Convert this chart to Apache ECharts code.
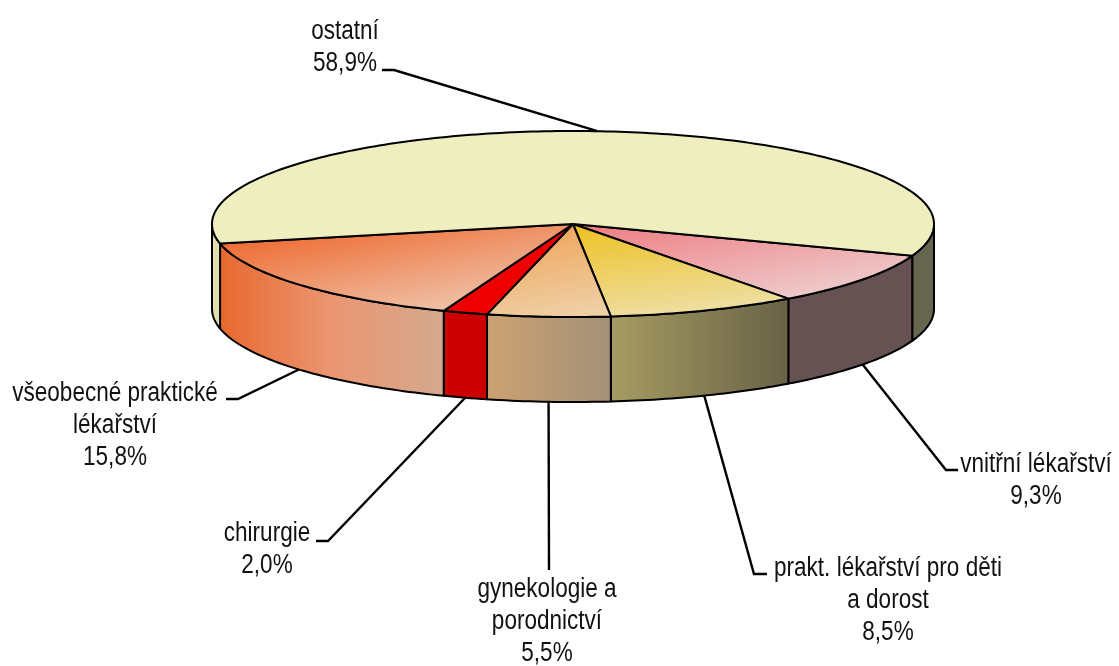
<!DOCTYPE html>
<html lang="cs">
  <head>
    <meta charset="UTF-8" />
    <title>Koláčový graf</title>
    <script src="https://cdn.jsdelivr.net/npm/echarts@6/dist/echarts.min.js"></script>
    <style>
      html, body { margin: 0; background: #fff; }
      #chart { width: 1119px; height: 666px; }
    </style>
  </head>
  <body>
    <div id="chart"></div>
    <script>
      // data, clockwise from the right hand edge of "ostatní"
      const categories = [
        "vnitřní lékařství",
        "prakt. lékařství pro děti\na dorost",
        "gynekologie a\nporodnictví",
        "chirurgie",
        "všeobecné praktické\nlékařství",
        "ostatní",
      ];
      const shares = [9.3, 8.5, 5.5, 2.0, 15.8, 58.9];

      // pie shape
      const cx = 573, cy = 224, rx = 361, ry = 93, depth = 85;
      const startAngle = 19.9;

      // colours
      const topColors = [
        ["#ee7a80", "#eecaca"],
        ["#eec020", "#eedd9c"],
        ["#efa75e", "#efd4ae"],
        ["#ee0000", "#ee0000"],
        ["#ee6a30", "#efc0a6"],
        ["#eeeebe", "#eeeebe"],
      ];
      // gradient vector of each top face, relative to its bounding box
      const topVectors = [
        [0, 0, 0.065, 1.5],
        [0, 0, 0.05, 1.03],
        [0.7, 0, 0.85, 1.05],
        [0, 0, 0, 1],
        [0, 0.2, 0.06, 1.42],
        [0, 0, 0, 1],
      ];
      const sideColors = [
        ["#665252", "#665252"],
        ["#a69c62", "#686246"],
        ["#cda272", "#a39078"],
        ["#cc0000", "#cc0000"],
        ["#e8682e", "#eb9672", "#d4a98e"],
        ["#666650", "#666650"],
      ];
      const leftSideColor = "#e0dfb0";

      // label layout: [centre x, first line y], leader: [end x, elbow x, y]
      const labelPos = [[1036, 464.5], [888, 568.5], [547, 589.5], [267, 533.5], [115, 393.5], [345, 31.5]];
      const leaders = [[958, 946, 470], [767, 754, 574], [549, 549, 570], [316, 328, 541], [226, 238, 399], [382, 394, 70]];
      const lineHeight = 32;

      const rad = (a) => (a * Math.PI) / 180;
      const rim = (a, dy) => [cx + rx * Math.cos(rad(a)), cy + ry * Math.sin(rad(a)) + (dy || 0)];
      const arc = (a0, a1, dy) => {
        const pts = [];
        const n = Math.max(2, Math.ceil(Math.abs(a1 - a0)));
        for (let i = 0; i <= n; i++) pts.push(rim(a0 + ((a1 - a0) * i) / n, dy));
        return pts;
      };
      const gradient = (vec, colors) => ({
        type: "linear", x: vec[0], y: vec[1], x2: vec[2], y2: vec[3],
        colorStops: colors.map((c, i) => ({ offset: i / (colors.length - 1), color: c })),
      });

      // start and end angle of each slice
      const total = shares.reduce((a, b) => a + b, 0);
      const ranges = [];
      let acc = startAngle;
      shares.forEach((v) => {
        const next = acc + (v / total) * 360;
        ranges.push([acc, next]);
        acc = next;
      });

      const seriesData = shares.map((v, i) => [i, v]);

      const renderSide = (params, api) => {
        const i = api.value(0);
        const [a0, a1] = ranges[i];
        const children = [];
        // only the front half of the disc shows a wall
        [[0, 180], [360, 540]].forEach(([lo, hi]) => {
          const s = Math.max(a0, lo), e = Math.min(a1, hi);
          if (e <= s) return;
          const colors = lo === 0 && i === 5 ? [leftSideColor, leftSideColor] : sideColors[i];
          children.push({
            type: "polygon",
            shape: { points: arc(s, e, 0).concat(arc(e, s, depth)) },
            style: { fill: gradient([0, 0, 1, 0], colors), stroke: "#000", lineWidth: 2, lineJoin: "round" },
          });
        });
        return { type: "group", children };
      };

      const renderTop = (params, api) => {
        const i = api.value(0);
        const [a0, a1] = ranges[i];
        return {
          type: "polygon",
          shape: { points: [[cx, cy]].concat(arc(a0, a1, 0)) },
          style: { fill: gradient(topVectors[i], topColors[i]), stroke: "#000", lineWidth: 2, lineJoin: "round" },
        };
      };

      const renderLabel = (params, api) => {
        const i = api.value(0);
        const [a0, a1] = ranges[i];
        const mid = (a0 + a1) / 2;
        // back slice leader stops at the top rim, the others under the wall
        const anchor = rim(mid, Math.sin(rad(mid)) > 0 ? depth : 0);
        const [endX, elbowX, y] = leaders[i];
        const lines = (categories[i] + "\n" + api.value(1).toFixed(1).replace(".", ",") + "%").split("\n");
        const children = [{
          type: "polyline",
          shape: { points: [[endX, y], [elbowX, y], anchor] },
          style: { fill: null, stroke: "#000", lineWidth: 2.4 },
        }];
        lines.forEach((text, n) => {
          children.push({
            type: "text",
            x: labelPos[i][0],
            y: labelPos[i][1] + n * lineHeight,
            scaleX: 0.92,
            scaleY: 1.1,
            style: {
              text, x: 0, y: 0, align: "center", verticalAlign: "middle",
              fill: "#111", font: '24.5px "Liberation Sans", Arial, sans-serif',
            },
          });
        });
        return { type: "group", children };
      };

      const chart = echarts.init(document.getElementById("chart"), null, { renderer: "canvas" });
      chart.setOption({
        animation: false,
        backgroundColor: "#fff",
        series: [
          { type: "custom", coordinateSystem: "none", data: seriesData, renderItem: renderSide, silent: true },
          { type: "custom", coordinateSystem: "none", data: seriesData, renderItem: renderTop, silent: true },
          { type: "custom", coordinateSystem: "none", data: seriesData, renderItem: renderLabel, silent: true },
        ],
      });
    </script>
  </body>
</html>
